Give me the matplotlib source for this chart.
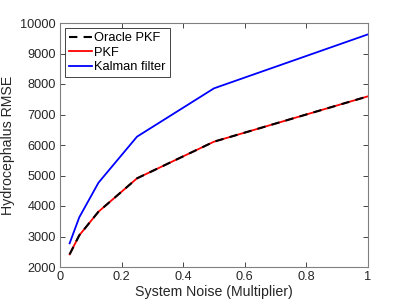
import matplotlib
matplotlib.use('Agg')
from matplotlib import pyplot as plt

noise = [1/32, 1/16, 1/8, 1/4, 1/2, 1]
oracle_pkf = [2415, 3038, 3814, 4907, 6109, 7596]
pkf = [2415, 3038, 3814, 4907, 6109, 7596]
kalman = [2776, 3628, 4765, 6273, 7858, 9628]

plt.rcParams['font.family'] = ['Liberation Sans', 'DejaVu Sans']

fig = plt.figure(figsize=(4.07, 3.05), dpi=100)
ax = fig.add_axes([60/407, 1 - 267/305, 308/407, 244/305])

ax.plot(noise, oracle_pkf, color='black', linestyle=(0, (4, 3)), linewidth=1.5, label='Oracle PKF', zorder=3)
ax.plot(noise, pkf, color='red', linewidth=1.3, label='PKF', zorder=2)
ax.plot(noise, kalman, color='blue', linewidth=1.3, label='Kalman filter', zorder=2)

ax.set_xlim(0, 1)
ax.set_ylim(2000, 10000)
ax.set_xticks([0, 0.2, 0.4, 0.6, 0.8, 1])
ax.set_xticklabels(['0', '0.2', '0.4', '0.6', '0.8', '1'])
ax.set_yticks(range(2000, 10001, 1000))
ax.tick_params(direction='in', top=True, right=True, labelsize=9.2, colors='#262626',
               length=3.5, width=0.6, pad=3)
for s in ax.spines.values():
    s.set_color('#808080')
    s.set_linewidth(0.8)

ax.set_xlabel('System Noise (Multiplier)', fontsize=10.2, color='#262626', labelpad=1)
ax.set_ylabel('Hydrocephalus RMSE', fontsize=10.2, color='#262626', labelpad=4)

leg = ax.legend(loc='upper left', prop={'size': 9.3}, frameon=True, fancybox=False,
                handlelength=1.8, handletextpad=0.15, borderpad=0.3, labelspacing=0.2,
                borderaxespad=0.4)
leg.get_frame().set_edgecolor('#262626')
leg.get_frame().set_linewidth(0.6)
leg.get_frame().set_alpha(1)

fig.savefig('out.png', dpi=100)
